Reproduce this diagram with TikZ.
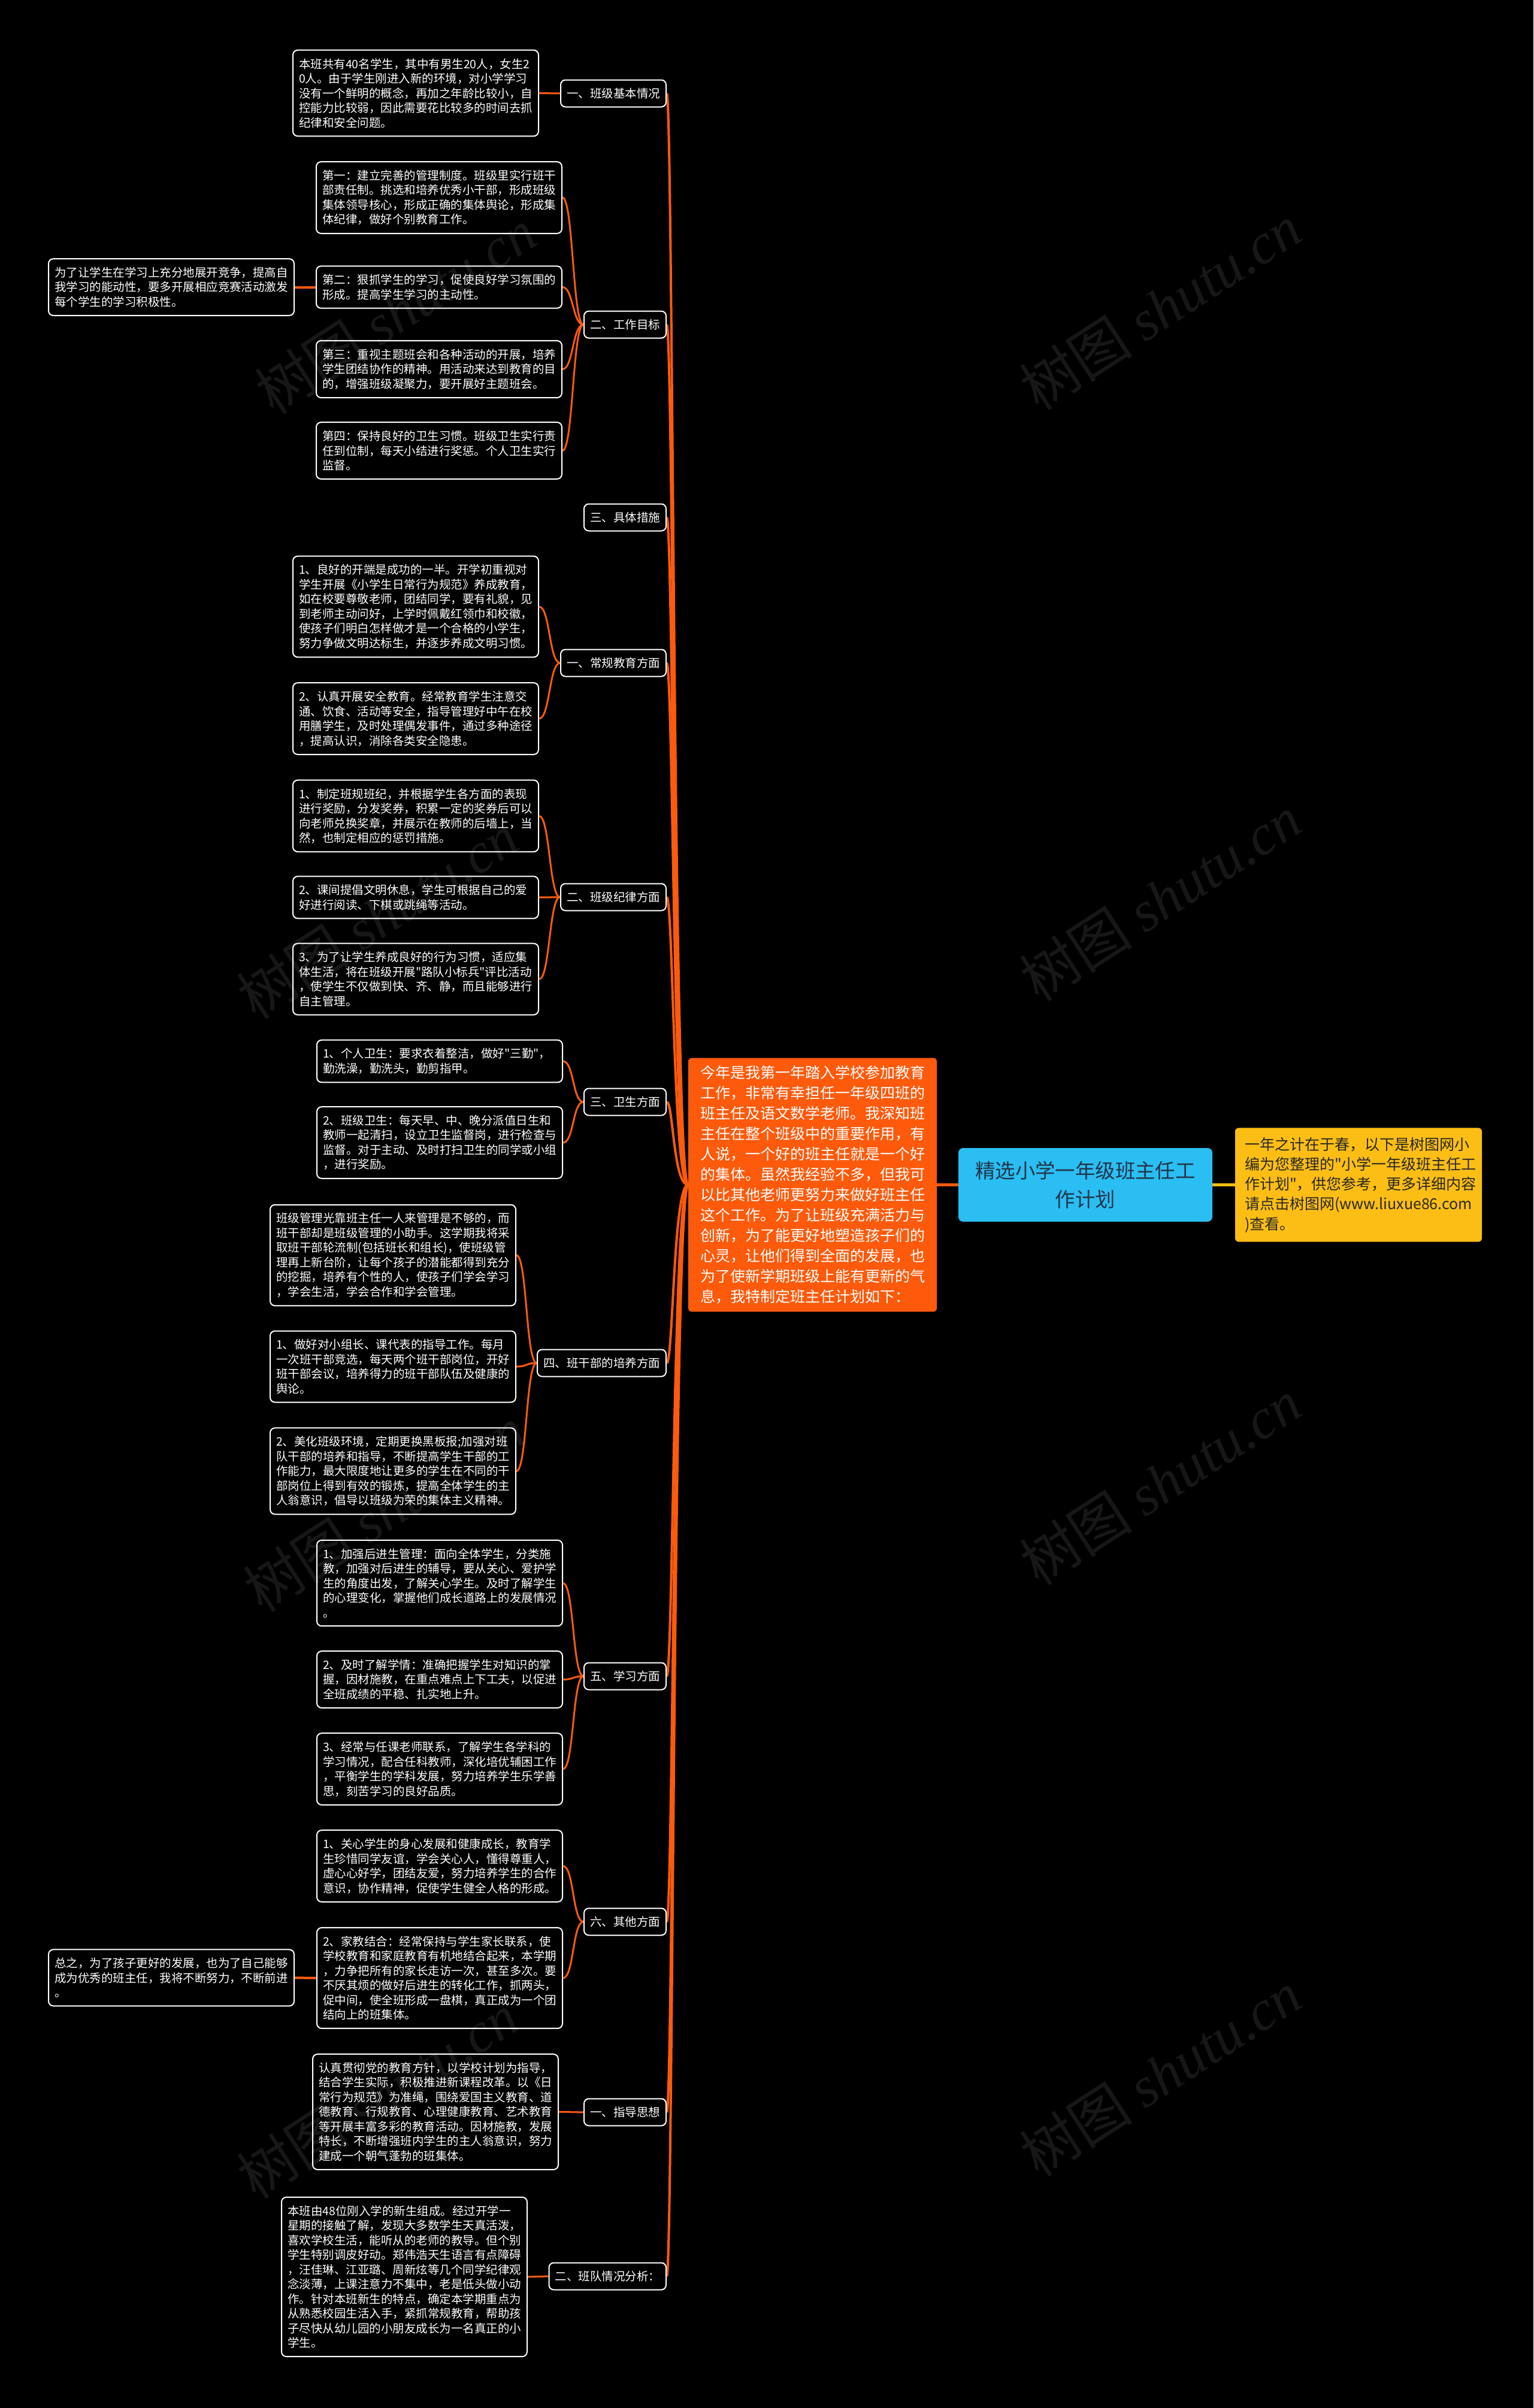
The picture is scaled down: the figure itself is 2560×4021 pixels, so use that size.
\documentclass[tikz,border=0pt]{standalone}
\usepackage{fontspec}
\newfontfamily\cjk{Noto Sans CJK SC}
\newfontfamily\wmlatin{Liberation Serif}
\usetikzlibrary{calc}
\pgfdeclarelayer{bg}
\pgfsetlayers{bg,main}
\definecolor{orangeC}{RGB}{253,90,12}
\definecolor{blueC}{RGB}{42,190,242}
\definecolor{yellowC}{RGB}{252,190,20}
\definecolor{titletext}{RGB}{35,52,72}
\definecolor{notetext}{RGB}{40,40,40}
\newcommand\leaffont{\cjk\fontsize{19.5pt}{24.5pt}\selectfont}
\newcommand\midfont{\cjk\fontsize{25pt}{34pt}\selectfont}
\newcommand\notefont{\cjk\fontsize{25pt}{33.3pt}\selectfont}
\newcommand\titlefont{\cjk\fontsize{33.4pt}{48pt}\selectfont}
\newcommand\wmfont{\cjk\fontsize{95pt}{100pt}\selectfont}
\tikzset{
  leaf/.style={draw=white, line width=2pt, rounded corners=8pt, fill=black, text=white,
    font=\leaffont, align=left, text width=390pt, inner xsep=10pt, inner ysep=13.75pt, anchor=east},
  lab/.style={draw=white, line width=2pt, rounded corners=8pt, fill=black, text=white,
    font=\leaffont, inner xsep=10pt, inner ysep=3pt, minimum height=45pt, anchor=east},
  trunk/.style={draw=orangeC, line width=4pt},
  br/.style={draw=orangeC, line width=3pt},
  wm/.style={rotate=33, text=white, text opacity=0.09, font=\wmfont, inner sep=0pt},
}
\newcommand\trunkto[1]{\draw[trunk] (root.west) .. controls ($(root.west)+(-25,0)$) and ($(#1.east)+(11,0)$) .. (#1.east);}
\newcommand\brto[2]{\draw[br] (#1.west) .. controls ($(#1.west)+(-18,0)$) and ($(#2.east)+(18,0)$) .. (#2.east);}
\begin{document}
\begin{tikzpicture}[x=1pt,y=-1pt]
\begin{pgfonlayer}{bg}
\fill[black] (0,0) rectangle (2560,4021);
\end{pgfonlayer}
\useasboundingbox (0,0) rectangle (2560,4021);

% central nodes
\node[fill=orangeC, rounded corners=6pt, text=white, font=\midfont, align=left, text width=375pt,
  inner xsep=20pt, inner ysep=13pt] (root) at (1356.5,1978.5)
  {今年是我第一年踏入学校参加教育\\工作，非常有幸担任一年级四班的\\班主任及语文数学老师。我深知班\\主任在整个班级中的重要作用，有\\人说，一个好的班主任就是一个好\\的集体。虽然我经验不多，但我可\\以比其他老师更努力来做好班主任\\这个工作。为了让班级充满活力与\\创新，为了能更好地塑造孩子们的\\心灵，让他们得到全面的发展，也\\为了使新学期班级上能有更新的气\\息，我特制定班主任计划如下：};
\node[fill=blueC, rounded corners=8pt, text=titletext, font=\titlefont, align=center,
  minimum width=424pt, minimum height=123pt, text width=400pt, inner sep=0pt] (title) at (1812,1978.5)
  {精选小学一年级班主任工\\作计划};
\node[fill=yellowC, rounded corners=6pt, text=notetext, font=\notefont, align=left, text width=380pt,
  inner xsep=16pt, inner ysep=15.5pt] (note) at (2268,1978.5)
  {一年之计在于春，以下是树图网小\\编为您整理的"小学一年级班主任工\\作计划"，供您参考，更多详细内容\\请点击树图网(www.liuxue86.com\\)查看。};

% section labels
\node[lab] (s1) at (1113,156) {一、班级基本情况};
\node[lab] (s2) at (1113,542) {二、工作目标};
\node[lab] (s3) at (1113,864) {三、具体措施};
\node[lab] (s4) at (1113,1107) {一、常规教育方面};
\node[lab] (s5) at (1113,1498) {二、班级纪律方面};
\node[lab] (s6) at (1113,1840) {三、卫生方面};
\node[lab] (s7) at (1113,2276) {四、班干部的培养方面};
\node[lab] (s8) at (1113,2799) {五、学习方面};
\node[lab] (s9) at (1113,3209) {六、其他方面};
\node[lab] (s10) at (1113,3527) {一、指导思想};
\node[lab] (s11) at (1113,3801) {二、班队情况分析：};

% leaves
\node[leaf] (a1) at (900,155.5) {本班共有40名学生，其中有男生20人，女生2\\0人。由于学生刚进入新的环境，对小学学习\\没有一个鲜明的概念，再加之年龄比较小，自\\控能力比较弱，因此需要花比较多的时间去抓\\纪律和安全问题。};

\node[leaf] (w1) at (939,330) {第一：建立完善的管理制度。班级里实行班干\\部责任制。挑选和培养优秀小干部，形成班级\\集体领导核心，形成正确的集体舆论，形成集\\体纪律，做好个别教育工作。};
\node[leaf] (w2) at (939,479.5) {第二：狠抓学生的学习，促使良好学习氛围的\\形成。提高学生学习的主动性。};
\node[leaf] (w3) at (939,616.5) {第三：重视主题班会和各种活动的开展，培养\\学生团结协作的精神。用活动来达到教育的目\\的，增强班级凝聚力，要开展好主题班会。};
\node[leaf] (w4) at (939,752.5) {第四：保持良好的卫生习惯。班级卫生实行责\\任到位制，每天小结进行奖惩。个人卫生实行\\监督。};
\node[leaf] (wx) at (492,479.5) {为了让学生在学习上充分地展开竞争，提高自\\我学习的能动性，要多开展相应竞赛活动激发\\每个学生的学习积极性。};

\node[leaf] (c1) at (900,1013) {1、良好的开端是成功的一半。开学初重视对\\学生开展《小学生日常行为规范》养成教育，\\如在校要尊敬老师，团结同学，要有礼貌，见\\到老师主动问好，上学时佩戴红领巾和校徽，\\使孩子们明白怎样做才是一个合格的小学生，\\努力争做文明达标生，并逐步养成文明习惯。};
\node[leaf] (c2) at (900,1200) {2、认真开展安全教育。经常教育学生注意交\\通、饮食、活动等安全，指导管理好中午在校\\用膳学生，及时处理偶发事件，通过多种途径\\，提高认识，消除各类安全隐患。};

\node[leaf] (d1) at (900,1362.5) {1、制定班规班纪，并根据学生各方面的表现\\进行奖励，分发奖券，积累一定的奖券后可以\\向老师兑换奖章，并展示在教师的后墙上，当\\然，也制定相应的惩罚措施。};
\node[leaf] (d2) at (900,1498.5) {2、课间提倡文明休息，学生可根据自己的爱\\好进行阅读、下棋或跳绳等活动。};
\node[leaf] (d3) at (900,1635) {3、为了让学生养成良好的行为习惯，适应集\\体生活，将在班级开展"路队小标兵"评比活动\\，使学生不仅做到快、齐、静，而且能够进行\\自主管理。};

\node[leaf] (h1) at (940,1772) {1、个人卫生：要求衣着整洁，做好"三勤"，\\勤洗澡，勤洗头，勤剪指甲。};
\node[leaf] (h2) at (940,1908) {2、班级卫生：每天早、中、晚分派值日生和\\教师一起清扫，设立卫生监督岗，进行检查与\\监督。对于主动、及时打扫卫生的同学或小组\\，进行奖励。};

\node[leaf] (b0) at (862,2096) {班级管理光靠班主任一人来管理是不够的，而\\班干部却是班级管理的小助手。这学期我将采\\取班干部轮流制(包括班长和组长)，使班级管\\理再上新台阶，让每个孩子的潜能都得到充分\\的挖掘，培养有个性的人，使孩子们学会学习\\，学会生活，学会合作和学会管理。};
\node[leaf] (b1) at (862,2282) {1、做好对小组长、课代表的指导工作。每月\\一次班干部竞选，每天两个班干部岗位，开好\\班干部会议，培养得力的班干部队伍及健康的\\舆论。};
\node[leaf] (b2) at (862,2456.5) {2、美化班级环境，定期更换黑板报;加强对班\\队干部的培养和指导，不断提高学生干部的工\\作能力，最大限度地让更多的学生在不同的干\\部岗位上得到有效的锻炼，提高全体学生的主\\人翁意识，倡导以班级为荣的集体主义精神。};

\node[leaf] (l1) at (940,2643.5) {1、加强后进生管理：面向全体学生，分类施\\教，加强对后进生的辅导，要从关心、爱护学\\生的角度出发，了解关心学生。及时了解学生\\的心理变化，掌握他们成长道路上的发展情况\\。};
\node[leaf] (l2) at (940,2804.5) {2、及时了解学情：准确把握学生对知识的掌\\握，因材施教，在重点难点上下工夫，以促进\\全班成绩的平稳、扎实地上升。};
\node[leaf] (l3) at (940,2954) {3、经常与任课老师联系，了解学生各学科的\\学习情况，配合任科教师，深化培优辅困工作\\，平衡学生的学科发展，努力培养学生乐学善\\思，刻苦学习的良好品质。};

\node[leaf] (o1) at (940,3116) {1、关心学生的身心发展和健康成长，教育学\\生珍惜同学友谊，学会关心人，懂得尊重人，\\虚心心好学，团结友爱，努力培养学生的合作\\意识，协作精神，促使学生健全人格的形成。};
\node[leaf] (o2) at (940,3303) {2、家教结合：经常保持与学生家长联系，使\\学校教育和家庭教育有机地结合起来，本学期\\，力争把所有的家长走访一次，甚至多次。要\\不厌其烦的做好后进生的转化工作，抓两头，\\促中间，使全班形成一盘棋，真正成为一个团\\结向上的班集体。};
\node[leaf] (ox) at (492,3302.5) {总之，为了孩子更好的发展，也为了自己能够\\成为优秀的班主任，我将不断努力，不断前进\\。};

\node[leaf] (g1) at (933,3526.5) {认真贯彻党的教育方针，以学校计划为指导，\\结合学生实际，积极推进新课程改革。以《日\\常行为规范》为准绳，围绕爱国主义教育、道\\德教育、行规教育、心理健康教育、艺术教育\\等开展丰富多彩的教育活动。因材施教，发展\\特长，不断增强班内学生的主人翁意识，努力\\建成一个朝气蓬勃的班集体。};

\node[leaf] (f1) at (881,3802) {本班由48位刚入学的新生组成。经过开学一\\星期的接触了解，发现大多数学生天真活泼，\\喜欢学校生活，能听从的老师的教导。但个别\\学生特别调皮好动。郑伟浩天生语言有点障碍\\，汪佳琳、江亚璐、周新炫等几个同学纪律观\\念淡薄，上课注意力不集中，老是低头做小动\\作。针对本班新生的特点，确定本学期重点为\\从熟悉校园生活入手，紧抓常规教育，帮助孩\\子尽快从幼儿园的小朋友成长为一名真正的小\\学生。};

% connectors
\begin{pgfonlayer}{bg}
\draw[orangeC, line width=5pt] (root.east) -- (title.west);
\draw[yellowC, line width=5pt] (title.east) -- (note.west);
\trunkto{s1}\trunkto{s2}\trunkto{s3}\trunkto{s4}\trunkto{s5}\trunkto{s6}
\trunkto{s7}\trunkto{s8}\trunkto{s9}\trunkto{s10}\trunkto{s11}
\brto{s1}{a1}
\brto{s2}{w1}\brto{s2}{w2}\brto{s2}{w3}\brto{s2}{w4}
\draw[br, line width=4pt] (w2.west) -- (wx.east);
\brto{s4}{c1}\brto{s4}{c2}
\brto{s5}{d1}\brto{s5}{d2}\brto{s5}{d3}
\brto{s6}{h1}\brto{s6}{h2}
\brto{s7}{b0}\brto{s7}{b1}\brto{s7}{b2}
\brto{s8}{l1}\brto{s8}{l2}\brto{s8}{l3}
\brto{s9}{o1}\brto{s9}{o2}
\draw[br, line width=4pt] (o2.west) -- (ox.east);
\brto{s10}{g1}
\brto{s11}{f1}
\end{pgfonlayer}

% watermarks
\node[wm] (wm1) at (660,520) {树图 {\wmlatin\itshape shutu.cn}};
\node[wm] (wm2) at (1937,513) {树图 {\wmlatin\itshape shutu.cn}};
\node[wm] (wm3) at (630,1530) {树图 {\wmlatin\itshape shutu.cn}};
\node[wm] (wm4) at (1937,1500) {树图 {\wmlatin\itshape shutu.cn}};
\node[wm] (wm5) at (641,2520) {树图 {\wmlatin\itshape shutu.cn}};
\node[wm] (wm6) at (1937,2475) {树图 {\wmlatin\itshape shutu.cn}};
\node[wm] (wm7) at (630,3500) {树图 {\wmlatin\itshape shutu.cn}};
\node[wm] (wm8) at (1937,3463) {树图 {\wmlatin\itshape shutu.cn}};
\end{tikzpicture}
\end{document}
